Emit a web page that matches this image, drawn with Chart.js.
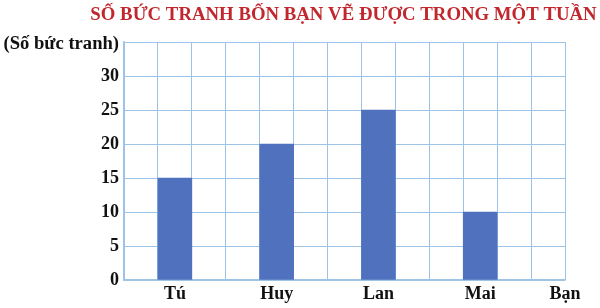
<!DOCTYPE html>
<html>
<head>
<meta charset="utf-8">
<script src="https://cdn.jsdelivr.net/npm/chart.js@4.4.1/dist/chart.umd.min.js"></script>
<style>
  html, body { margin: 0; padding: 0; background: #ffffff; }
  #wrap { width: 600px; height: 308px; position: relative; }
</style>
</head>
<body>
<div id="wrap"><canvas id="c" width="600" height="308"></canvas></div>
<script>
// ---- data ----
const chartTitle = 'SỐ BỨC TRANH BỐN BẠN VẼ ĐƯỢC TRONG MỘT TUẦN';
const yAxisName = '(Số bức tranh)';
const xAxisName = 'Bạn';
const categories = ['Tú', 'Huy', 'Lan', 'Mai'];
const paintings = [15, 20, 25, 10];
const yTickLabels = [0, 5, 10, 15, 20, 25, 30];

// ---- layout helpers (grid: 13 columns, each category spans 3 columns) ----
const gridCols = 13;
const colsPerCat = 3;
const catPos = categories.map((c, i) => i * colsPerCat + colsPerCat / 2);
const labelPos = catPos.concat([gridCols]);
const labelText = categories.concat([xAxisName]);

const gridColor = '#9dc3e6';
const barColor = '#4f71be';
const fontFamily = '"Liberation Serif", "Times New Roman", serif';

const textPlugin = {
  id: 'extraText',
  afterDraw(chart) {
    const { ctx, chartArea } = chart;
    ctx.save();
    ctx.fillStyle = '#c1272d';
    ctx.font = 'bold 18.8px ' + fontFamily;
    ctx.textAlign = 'center';
    ctx.textBaseline = 'alphabetic';
    ctx.fillText(chartTitle, (chartArea.left + chartArea.right) / 2 - 1, 20);
    ctx.fillStyle = '#111111';
    ctx.font = 'bold 18.6px ' + fontFamily;
    ctx.textAlign = 'right';
    ctx.textBaseline = 'alphabetic';
    ctx.fillText(yAxisName, chartArea.left - 5, chartArea.top + 7);
    ctx.restore();
  }
};

new Chart(document.getElementById('c'), {
  type: 'bar',
  data: {
    datasets: [{
      data: paintings.map((v, i) => ({ x: catPos[i], y: v })),
      backgroundColor: barColor,
      borderWidth: 0,
      barPercentage: 1,
      categoryPercentage: 1,
      xAxisID: 'x',
      yAxisID: 'y'
    }]
  },
  options: {
    responsive: false,
    animation: false,
    devicePixelRatio: 1,
    layout: { padding: { top: 42, right: 35, left: 0, bottom: 0 } },
    plugins: { legend: { display: false }, tooltip: { enabled: false }, title: { display: false } },
    scales: {
      x: {
        type: 'linear',
        min: 0,
        max: gridCols,
        offset: false,
        position: 'bottom',
        weight: 0,
        ticks: { stepSize: 1, display: false },
        grid: { color: gridColor, lineWidth: 1, drawTicks: false, offset: false },
        border: { color: gridColor, width: 1.5 },
        afterFit(axis) { axis.height = 0; }
      },
      xl: {
        type: 'linear',
        min: 0,
        max: gridCols,
        offset: false,
        position: 'bottom',
        weight: 1,
        grid: { display: false, drawTicks: false },
        border: { display: false },
        afterBuildTicks(axis) { axis.ticks = labelPos.map(v => ({ value: v })); },
        ticks: {
          autoSkip: false,
          maxRotation: 0,
          padding: 4,
          color: '#111111',
          font: { family: fontFamily, size: 18, weight: 'bold' },
          callback(value) {
            const idx = labelPos.indexOf(value);
            return idx >= 0 ? labelText[idx] : '';
          }
        },
        afterFit(axis) { axis.height = 28; }
      },
      y: {
        type: 'linear',
        min: 0,
        max: 35,
        ticks: {
          stepSize: 5,
          padding: 5,
          color: '#111111',
          font: { family: fontFamily, size: 18, weight: 'bold' },
          callback(value) { return yTickLabels.includes(value) ? String(value) : ''; }
        },
        grid: { color: gridColor, lineWidth: 1, drawTicks: false },
        border: { color: gridColor, width: 1.5 },
        afterFit(axis) { axis.width = 124; }
      }
    }
  },
  plugins: [textPlugin]
});
</script>
</body>
</html>
